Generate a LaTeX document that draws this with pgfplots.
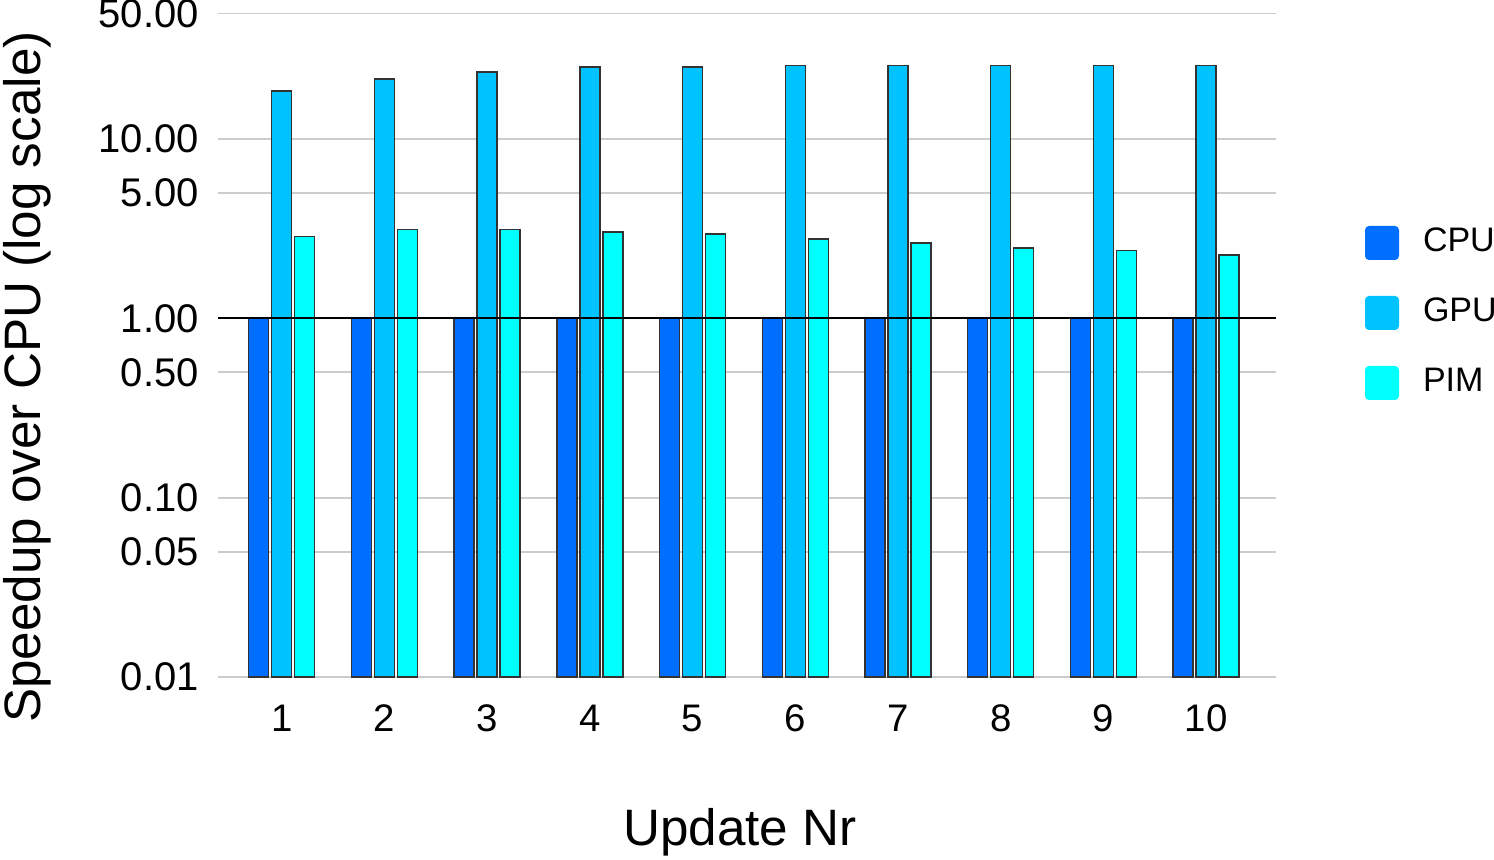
\documentclass[border=0pt]{standalone}
\usepackage{fontspec}
\setmainfont{Liberation Sans}
\usepackage{pgfplots}
\pgfplotsset{compat=1.18}
\definecolor{cpuc}{HTML}{006EFF}
\definecolor{gpuc}{HTML}{00C2FF}
\definecolor{pimc}{HTML}{00FFFF}
\begin{document}
\begin{tikzpicture}
\useasboundingbox (0,0) rectangle (373.5pt,-214.75pt);
\begin{axis}[
  at={(54.5pt,-169.25pt)}, anchor=south west,
  scale only axis, width=264.5pt, height=165.9pt,
  ymode=log, ymin=0.01, ymax=50, log origin=infty,
  xmin=0.38, xmax=10.68,
  ybar=0.75pt, bar width=5pt,
  axis line style={draw=none},
  tick style={draw=none},
  ymajorgrids, grid style={gray!40, line width=0.45pt},
  ytick={0.01,0.05,0.1,0.5,1,5,10,50},
  yticklabels={0.01,0.05,0.10,0.50,1.00,5.00,10.00,50.00},
  xtick={1,2,3,4,5,6,7,8,9,10},
  xticklabels={1,2,3,4,5,6,7,8,9,10},
  yticklabel style={font=\fontsize{10}{12}\selectfont, xshift=-1.3pt},
  xticklabel style={font=\fontsize{9.6}{12}\selectfont, yshift=0.8pt},
  ylabel={Speedup over CPU (log scale)},
  xlabel={Update Nr},
  ylabel style={font=\fontsize{12.8}{15}\selectfont, at={(axis description cs:-0.18,0.452)}, anchor=center},
  xlabel style={font=\fontsize{12.8}{15}\selectfont, at={(axis description cs:0.4934,-0.2336)}, anchor=center},
  legend style={at={(axis description cs:1.0841,0.6797)}, anchor=north west, draw=none, fill=none,
    inner sep=0pt, outer sep=0pt, row sep=9pt, column sep=6pt, font=\fontsize{8.5}{10}\selectfont,
    nodes={inner sep=0pt}},
  legend cell align=left,
  legend image code/.code={\fill[#1,draw=none,rounded corners=1pt] (0pt,-4.25pt) rectangle (8.5pt,4.25pt);},
  every axis plot/.append style={draw=black!80, line width=0.35pt},
]
\addplot[fill=cpuc] coordinates {(1,1) (2,1) (3,1) (4,1) (5,1) (6,1) (7,1) (8,1) (9,1) (10,1)};
\addplot[fill=gpuc] coordinates {(1,18.5) (2,21.5) (3,23.6) (4,25.1) (5,25.1) (6,25.7) (7,25.7) (8,25.7) (9,25.7) (10,25.7)};
\addplot[fill=pimc] coordinates {(1,2.86) (2,3.12) (3,3.12) (4,3.02) (5,2.95) (6,2.77) (7,2.62) (8,2.46) (9,2.39) (10,2.25)};
\legend{CPU,GPU,PIM}
\draw[black, line width=0.4pt] ({rel axis cs:0,0}|-{axis cs:1,1}) -- ({rel axis cs:1,0}|-{axis cs:1,1});
\end{axis}
\end{tikzpicture}
\end{document}
